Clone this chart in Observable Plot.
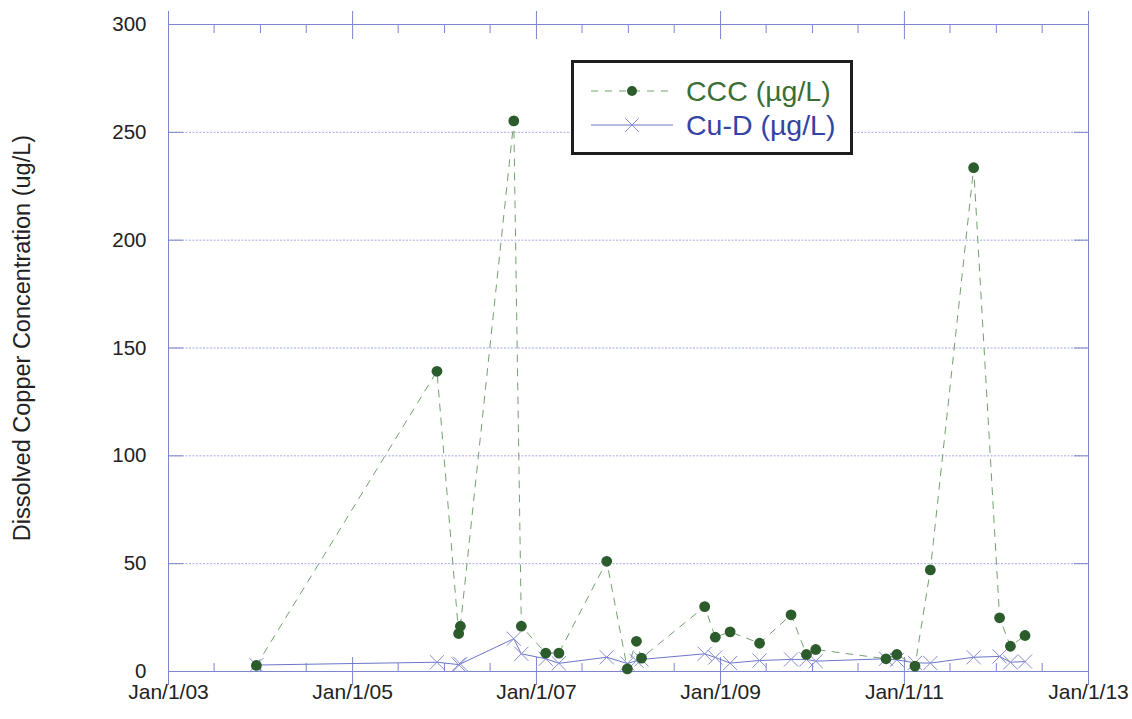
<!DOCTYPE html>
<html>
<head>
<meta charset="utf-8">
<script src="https://cdn.jsdelivr.net/npm/d3@7"></script>
<script src="https://cdn.jsdelivr.net/npm/@observablehq/plot@0.6"></script>
<style>
  body { margin: 0; background: #fff; }
  #wrap { position: relative; width: 1132px; height: 719px; font-family: "Liberation Sans", Arial, sans-serif; }
  #legend { position: absolute; left: 571px; top: 60px; width: 276px; height: 89px; border: 3px solid #1e1e1e; background: #fff; }
  #legend svg { display: block; }
</style>
</head>
<body>
<div id="wrap"></div>
<script>
// Sampling dates and measured / criterion concentrations (µg/L)
const sampleDates = [
  "2003-12-16", "2005-12-02", "2006-02-26", "2006-03-05", "2006-10-03", "2006-11-02",
  "2007-02-07", "2007-03-31", "2007-10-07", "2007-12-28", "2008-02-02", "2008-02-22",
  "2008-10-30", "2008-12-11", "2009-02-08", "2009-06-05", "2009-10-08", "2009-12-08",
  "2010-01-14", "2010-10-20", "2010-12-02", "2011-02-12", "2011-04-14", "2011-10-03",
  "2012-01-14", "2012-02-26", "2012-04-24"
];
const cccValues = [
  2.8, 139.2, 17.6, 21.0, 255.3, 21.0,
  8.5, 8.5, 51.1, 1.2, 14.0, 6.2,
  30.1, 15.9, 18.4, 13.1, 26.3, 7.9,
  10.2, 5.9, 7.9, 2.5, 47.1, 233.6,
  24.9, 11.7, 16.7
];
const cuDValues = [
  3.0, 4.3, 3.2, 3.5, 15.2, 8.2,
  5.9, 3.8, 6.6, 3.7, 5.0, 5.6,
  8.2, 6.5, 3.9, 5.1, 5.6, 5.6,
  4.8, 5.9, 5.4, 4.0, 3.9, 6.6,
  7.0, 4.3, 4.6
];

const seriesNames = ["CCC (µg/L)", "Cu-D (µg/L)"];
const yTitle = "Dissolved Copper Concentration (ug/L)";
const yTicks = [0, 50, 100, 150, 200, 250, 300];
const gridValues = [50, 100, 150, 200, 250];
const majorYears = [2003, 2005, 2007, 2009, 2011, 2013];
const majorLabels = ["Jan/1/03", "Jan/1/05", "Jan/1/07", "Jan/1/09", "Jan/1/11", "Jan/1/13"];

const axisColor = "#7d85cd";
const cccDot = "#2c5b2c";
const cccLine = "#74a06f";
const cuLine = "#6c76c8";
const cuMark = "#858cd4";
const fontStack = '"Liberation Sans", Arial, sans-serif';

const data = sampleDates.map((d, i) => ({date: new Date(d), ccc: cccValues[i], cu: cuDValues[i]}));

const start = new Date(Date.UTC(majorYears[0], 0, 1));
const end = new Date(Date.UTC(majorYears[majorYears.length - 1], 0, 1));
const majorDates = majorYears.map(y => new Date(Date.UTC(y, 0, 1)));
const majorSet = new Set(majorDates.map(d => +d));
// half-year minor ticks between the labelled years
const minorDates = d3.utcMonth.every(6).range(start, end).filter(d => !majorSet.has(+d));
const labelFor = d => majorLabels[majorDates.findIndex(m => +m === +d)];

const chart = Plot.plot({
  width: 1132,
  height: 719,
  marginLeft: 168,
  marginRight: 44,
  marginTop: 24,
  marginBottom: 48,
  style: {fontFamily: fontStack, fontSize: "20px", color: "#222", background: "#fff"},
  x: {type: "utc", domain: [start, end], label: null},
  y: {domain: [0, 300], label: null},
  marks: [
    Plot.ruleY(gridValues, {stroke: "#a3a9e0", strokeWidth: 1, strokeDasharray: "2,1.5"}),
    Plot.frame({stroke: axisColor}),
    // inward ticks on left and right
    Plot.axisY({anchor: "left", ticks: yTicks, tickSize: 15, dx: 15, fill: "none", stroke: axisColor, label: null}),
    Plot.axisY({anchor: "right", ticks: yTicks, tickSize: 15, dx: -15, fill: "none", stroke: axisColor, label: null}),
    Plot.axisY({anchor: "left", ticks: yTicks, tickSize: 0, tickPadding: 22, fill: "#222", fontSize: 20.5, label: null}),
    // bottom: major ticks cross the axis, minor ticks point inward
    Plot.axisX({anchor: "bottom", ticks: majorDates, tickSize: 28, dy: -14, fill: "none", stroke: axisColor, label: null}),
    Plot.axisX({anchor: "bottom", ticks: minorDates, tickSize: 8, dy: -8, fill: "none", stroke: axisColor, label: null}),
    Plot.axisX({anchor: "bottom", ticks: majorDates, tickSize: 0, tickPadding: 13, tickFormat: labelFor, fill: "#222", fontSize: 21, label: null}),
    // top: mirrored ticks
    Plot.axisX({anchor: "top", ticks: majorDates, tickSize: 28, dy: 14, fill: "none", stroke: axisColor, label: null}),
    Plot.axisX({anchor: "top", ticks: minorDates, tickSize: 8, dy: 8, fill: "none", stroke: axisColor, label: null}),
    // series
    Plot.line(data, {x: "date", y: "ccc", stroke: cccLine, strokeWidth: 1, strokeDasharray: "7,7"}),
    Plot.line(data, {x: "date", y: "cu", stroke: cuLine, strokeWidth: 1}),
    Plot.dot(data, {x: "date", y: "cu", symbol: "times", r: 6.5, stroke: cuMark, strokeWidth: 1}),
    Plot.dot(data, {x: "date", y: "ccc", r: 5.4, fill: cccDot, stroke: "none"}),
    // y-axis title
    Plot.text([yTitle], {frameAnchor: "left", rotate: -90, dx: -146, dy: -10, text: d => d, textAnchor: "middle", fontSize: 23.5, fill: "#222"})
  ]
});

const wrap = document.getElementById("wrap");
wrap.appendChild(chart);

// legend box
const legend = document.createElement("div");
legend.id = "legend";
wrap.appendChild(legend);
const lsvg = d3.select(legend).append("svg").attr("width", 276).attr("height", 89);
const rows = [
  {name: seriesNames[0], y: 28, color: "#3b6e35"},
  {name: seriesNames[1], y: 62, color: "#3443a6"}
];
lsvg.append("line").attr("x1", 17).attr("x2", 99).attr("y1", rows[0].y).attr("y2", rows[0].y)
  .attr("stroke", cccLine).attr("stroke-dasharray", "7,7");
lsvg.append("circle").attr("cx", 58).attr("cy", rows[0].y).attr("r", 5).attr("fill", cccDot);
lsvg.append("line").attr("x1", 17).attr("x2", 99).attr("y1", rows[1].y).attr("y2", rows[1].y)
  .attr("stroke", cuLine);
lsvg.append("path").attr("d", d3.symbol(d3.symbolTimes, 120)()).attr("transform", `translate(58,${rows[1].y})`)
  .attr("stroke", cuMark).attr("fill", "none");
lsvg.selectAll("text.lab").data(rows).join("text")
  .attr("x", 112).attr("y", d => d.y).attr("dy", "0.35em")
  .attr("font-size", 28.5).attr("font-family", fontStack)
  .attr("fill", d => d.color).text(d => d.name);
</script>
</body>
</html>
